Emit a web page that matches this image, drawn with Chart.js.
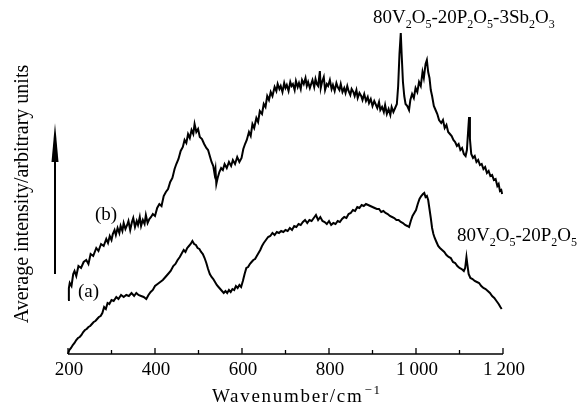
<!DOCTYPE html>
<html><head><meta charset="utf-8">
<script src="https://cdn.jsdelivr.net/npm/chart.js@4"></script>
<style>html,body{margin:0;padding:0;background:#fff}#c{display:block}</style>
</head><body>
<canvas id="c" width="588" height="408"></canvas>
<script>
// ---- data (wavenumber cm^-1, intensity in arbitrary units) ----
const xMajorTicks = [200, 400, 600, 800, 1000, 1200];
const xTickLabels = ["200", "400", "600", "800", "1\u2009000", "1\u2009200"];
const xMinorTicks = [300, 500, 700, 900, 1100];
const xTitle = "Wavenumber/cm";
const yTitle = "Average intensity/arbitrary units";
const seriesAName = "80V_2O_5-20P_2O_5";
const seriesBName = "80V_2O_5-20P_2O_5-3Sb_2O_3";

const seriesA = [
[200,0],[203,4],[207,6],[211,9],[215,11],[219,14],[223,16],[227,17],[231,19],[235,22],[239,24],[243,25],[247,27],[251,28],[255,30],[259,32],[263,33],[267,35],[271,37],[275,38],[279,41],[283,47],[287,45],[291,51],[295,50],[300,54],[305,53],[311,57],[316,55],[322,59],[328,57],[334,59],[340,58],[346,61],[352,58],[357,61],[362,59],[368,58],[374,57],[380,55],[385,59],[390,62],[395,64],[400,68],[406,70],[412,72],[418,74],[424,77],[430,80],[436,83],[442,88],[447,90],[452,94],[457,97],[462,101],[466,104],[470,102],[474,106],[478,108],[482,110],[486,113],[490,110],[494,109],[498,106],[502,105],[506,102],[510,100],[514,96],[518,91],[522,85],[526,80],[530,77],[534,75],[538,72],[542,69],[546,67],[550,65],[554,63],[558,61],[562,63],[566,61],[570,64],[574,62],[578,65],[582,64],[586,68],[590,66],[594,69],[598,67],[602,73],[606,80],[610,86],[614,87],[618,90],[622,92],[626,94],[630,95],[634,98],[638,101],[642,104],[646,108],[650,111],[655,114],[660,117],[665,118],[670,121],[675,119],[680,122],[685,121],[690,123],[695,122],[700,124],[705,123],[710,126],[715,124],[720,128],[725,127],[730,130],[735,129],[740,132],[745,134],[750,131],[755,134],[760,133],[765,136],[770,139],[775,134],[780,137],[785,133],[790,132],[795,130],[800,133],[805,129],[810,131],[815,130],[820,133],[825,132],[830,135],[835,137],[840,136],[845,140],[850,141],[855,144],[860,143],[865,147],[870,146],[875,149],[880,148],[885,150],[890,149],[895,148],[900,147],[905,146],[910,145],[915,145],[920,142],[925,143],[930,141],[935,140],[940,138],[945,137],[950,136],[955,134],[960,134],[965,132],[970,131],[975,129],[980,128],[984,127],[988,133],[992,138],[996,141],[1000,144],[1004,150],[1008,155],[1012,158],[1016,160],[1019,161],[1022,157],[1025,158],[1028,154],[1031,145],[1034,136],[1037,126],[1040,120],[1043,116],[1047,112],[1051,108],[1055,106],[1060,104],[1065,102],[1070,99],[1075,97],[1080,96],[1085,92],[1090,91],[1095,88],[1100,86],[1105,85],[1110,83],[1113,86],[1116,97],[1118,90],[1121,80],[1125,76],[1130,75],[1135,73],[1140,72],[1145,71],[1150,68],[1155,66],[1160,65],[1165,63],[1170,61],[1175,58],[1180,56],[1185,53],[1190,50],[1194,47],[1197,45]
];

const seriesB = [
[200,54],[202,66],[204,71],[208,68],[212,80],[215,83],[219,78],[224,88],[230,86],[236,92],[242,94],[247,90],[252,100],[258,98],[265,106],[270,103],[276,110],[282,108],[288,115],[292,111],[296,118],[300,114],[303,120],[307,124],[310,119],[314,126],[318,121],[321,128],[325,123],[328,131],[332,125],[336,129],[339,133],[343,124],[347,132],[350,136],[354,127],[358,133],[361,129],[365,137],[368,128],[372,134],[376,130],[379,139],[383,131],[387,135],[391,137],[395,140],[400,138],[405,146],[410,150],[415,148],[420,158],[425,162],[430,165],[435,172],[440,176],[445,185],[449,190],[454,195],[459,203],[464,207],[468,214],[472,211],[476,220],[480,216],[484,224],[488,220],[491,230],[495,222],[499,225],[503,217],[508,215],[513,210],[518,206],[522,204],[526,198],[530,192],[534,188],[537,180],[539,185],[541,170],[544,176],[548,182],[552,186],[556,184],[560,190],[565,186],[570,192],[575,188],[579,194],[584,190],[589,197],[594,192],[599,196],[603,205],[607,210],[611,214],[616,222],[620,218],[624,230],[628,226],[633,236],[637,232],[641,243],[646,240],[650,250],[654,247],[658,258],[662,254],[666,262],[670,258],[675,267],[679,263],[682,270],[686,265],[689,268],[693,262],[697,271],[700,266],[703,269],[707,263],[711,272],[714,268],[717,270],[721,264],[724,273],[728,267],[731,271],[735,265],[738,274],[742,270],[746,276],[749,268],[752,272],[756,266],[759,270],[762,274],[766,267],[769,275],[772,270],[775,268],[779,283],[781,266],[784,272],[788,277],[791,264],[795,270],[798,268],[802,274],[806,265],[809,269],[813,263],[817,271],[820,267],[824,264],[827,270],[831,262],[835,266],[838,261],[842,268],[845,263],[849,259],[852,265],[856,262],[859,258],[863,264],[866,256],[870,261],[874,258],[877,254],[881,260],[885,253],[889,257],[892,251],[896,255],[900,248],[904,253],[907,250],[911,246],[915,252],[918,244],[922,247],[926,242],[929,249],[933,240],[937,245],[941,239],[944,247],[948,242],[952,246],[956,250],[959,268],[962,300],[965,321],[967,300],[970,272],[973,258],[976,250],[980,248],[984,244],[987,254],[991,260],[995,256],[999,266],[1003,262],[1007,272],[1011,268],[1015,282],[1018,276],[1022,290],[1025,294],[1028,282],[1031,276],[1034,264],[1037,258],[1041,248],[1045,244],[1049,240],[1053,234],[1058,231],[1062,234],[1066,226],[1070,229],[1074,222],[1078,220],[1082,218],[1086,214],[1090,212],[1094,208],[1098,210],[1102,204],[1106,206],[1110,200],[1114,198],[1117,204],[1120,224],[1122,237],[1124,215],[1127,200],[1131,196],[1135,198],[1139,192],[1143,194],[1147,189],[1151,190],[1155,185],[1159,187],[1163,181],[1167,183],[1171,178],[1175,179],[1179,174],[1183,175],[1187,168],[1190,170],[1193,163],[1196,164],[1198,160]
];

const FONT = '"Liberation Serif", "Times New Roman", serif';

// draw text where "_d" makes d a subscript
function drawRich(ctx, str, x, y, size) {
  const parts = [];
  for (let i = 0; i < str.length; i++) {
    if (str[i] === '_' && i + 1 < str.length) { parts.push([str[i+1], true]); i++; }
    else parts.push([str[i], false]);
  }
  ctx.textAlign = 'left';
  ctx.textBaseline = 'alphabetic';
  let cx = x;
  for (const [ch, sub] of parts) {
    if (sub) {
      ctx.font = Math.round(size * 0.62) + 'px ' + FONT;
      ctx.fillText(ch, cx, y + size * 0.28);
    } else {
      ctx.font = size + 'px ' + FONT;
      ctx.fillText(ch, cx, y);
    }
    cx += ctx.measureText(ch).width;
  }
}

const decor = {
  id: 'decor',
  afterDraw(chart) {
    const ctx = chart.ctx;
    const xs = chart.scales.x, ys = chart.scales.y;
    const y0 = ys.getPixelForValue(0);
    ctx.save();
    ctx.fillStyle = '#000';
    ctx.strokeStyle = '#000';
    // x axis line
    ctx.lineWidth = 1.5;
    ctx.beginPath();
    ctx.moveTo(xs.getPixelForValue(200), y0);
    ctx.lineTo(xs.getPixelForValue(1200), y0);
    ctx.stroke();
    // ticks pointing inward
    ctx.lineWidth = 1.3;
    xMajorTicks.forEach(v => {
      const px = xs.getPixelForValue(v);
      ctx.beginPath(); ctx.moveTo(px, y0); ctx.lineTo(px, y0 - 6); ctx.stroke();
    });
    xMinorTicks.forEach(v => {
      const px = xs.getPixelForValue(v);
      ctx.beginPath(); ctx.moveTo(px, y0); ctx.lineTo(px, y0 - 4); ctx.stroke();
    });
    // tick labels
    ctx.font = '19px ' + FONT;
    ctx.textAlign = 'center';
    ctx.textBaseline = 'alphabetic';
    xMajorTicks.forEach((v, i) => {
      ctx.fillText(xTickLabels[i], xs.getPixelForValue(v) + 1, y0 + 21);
    });
    // x title with superscript
    ctx.font = '19px ' + FONT;
    ctx.textAlign = 'left';
    try { ctx.letterSpacing = '1.7px'; } catch (e) {}
    ctx.fillText(xTitle, 212, 402);
    const tw = ctx.measureText(xTitle).width;
    ctx.font = '13px ' + FONT;
    ctx.fillText('\u22121', 212 + tw + 1, 394);
    try { ctx.letterSpacing = '0px'; } catch (e) {}
    // y title rotated
    ctx.save();
    ctx.translate(28, 194);
    ctx.rotate(-Math.PI / 2);
    ctx.font = '20px ' + FONT;
    ctx.textAlign = 'center';
    ctx.fillText(yTitle, 0, 0);
    ctx.restore();
    // arrow
    ctx.lineWidth = 2;
    ctx.beginPath(); ctx.moveTo(55, 274); ctx.lineTo(55, 150); ctx.stroke();
    ctx.beginPath();
    ctx.moveTo(55, 123); ctx.lineTo(51.5, 162); ctx.lineTo(58.5, 162); ctx.closePath(); ctx.fill();
    // annotations
    drawRich(ctx, seriesBName, 373, 23, 19);
    drawRich(ctx, seriesAName, 457, 241, 19);
    ctx.font = '19px ' + FONT;
    ctx.textAlign = 'left';
    ctx.fillText('(b)', 95, 220);
    ctx.fillText('(a)', 78, 297);
    ctx.restore();
  }
};

const toXY = arr => arr.map(p => ({ x: p[0], y: p[1] }));

new Chart(document.getElementById('c'), {
  type: 'line',
  data: {
    datasets: [
      { label: 'a', data: toXY(seriesA), borderColor: '#000', borderWidth: 2, pointRadius: 0, tension: 0, clip: false },
      { label: 'b', data: toXY(seriesB), borderColor: '#000', borderWidth: 2, pointRadius: 0, tension: 0, clip: false }
    ]
  },
  options: {
    responsive: false,
    animation: false,
    devicePixelRatio: 1,
    layout: { padding: { left: 68, right: 85, top: 0, bottom: 54 } },
    scales: {
      x: { type: 'linear', min: 200, max: 1200, display: false },
      y: { type: 'linear', min: 0, max: 354, display: false }
    },
    plugins: { legend: { display: false }, tooltip: { enabled: false } }
  },
  plugins: [decor]
});
</script>
</body></html>
